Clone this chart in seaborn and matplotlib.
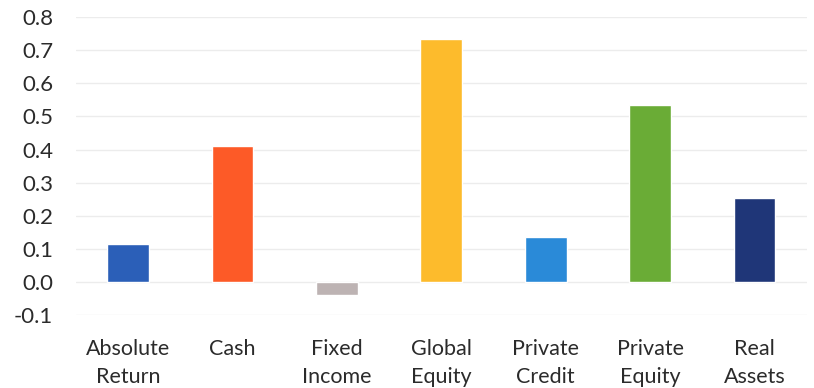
import matplotlib
matplotlib.use("Agg")
import matplotlib.pyplot as plt
import seaborn as sns
import pandas as pd

categories = ["Absolute\nReturn", "Cash", "Fixed\nIncome", "Global\nEquity",
              "Private\nCredit", "Private\nEquity", "Real\nAssets"]
values = [0.115, 0.41, -0.04, 0.735, 0.135, 0.535, 0.255]
colors = ["#2b5fb8", "#fd5a27", "#bdb3b3", "#fdbb2c", "#2a8ad8", "#6aac36", "#1f3678"]
yticks = [-0.1, 0.0, 0.1, 0.2, 0.3, 0.4, 0.5, 0.6, 0.7, 0.8]

sns.set_theme(style="white")
plt.rcParams["font.family"] = ["Lato", "DejaVu Sans"]

df = pd.DataFrame({"category": categories, "value": values})

fig = plt.figure(figsize=(8.14, 3.88), dpi=100)
ax = fig.add_axes([0.0934, 0.188, 0.8976, 0.768])

for y in yticks:
    ax.axhline(y, color="#ececec", linewidth=1.0, zorder=0)

sns.barplot(data=df, x="category", y="value", hue="category", palette=colors,
            width=0.4, legend=False, ax=ax, zorder=2, saturation=1)

ax.set_ylim(-0.1, 0.8)
ax.set_yticks(yticks)
ax.set_yticklabels([f"{t:.1f}" for t in yticks], fontsize=16, color="#2b2b2b")
ax.set_xticks(range(len(categories)))
ax.set_xticklabels(categories, fontsize=15.5, color="#2b2b2b", linespacing=1.5)
ax.tick_params(axis="x", pad=17, length=0)
ax.tick_params(axis="y", pad=16.5, length=0)
ax.set_xlabel("")
ax.set_ylabel("")
for s in ax.spines.values():
    s.set_visible(False)

fig.savefig("out.png", dpi=100)
